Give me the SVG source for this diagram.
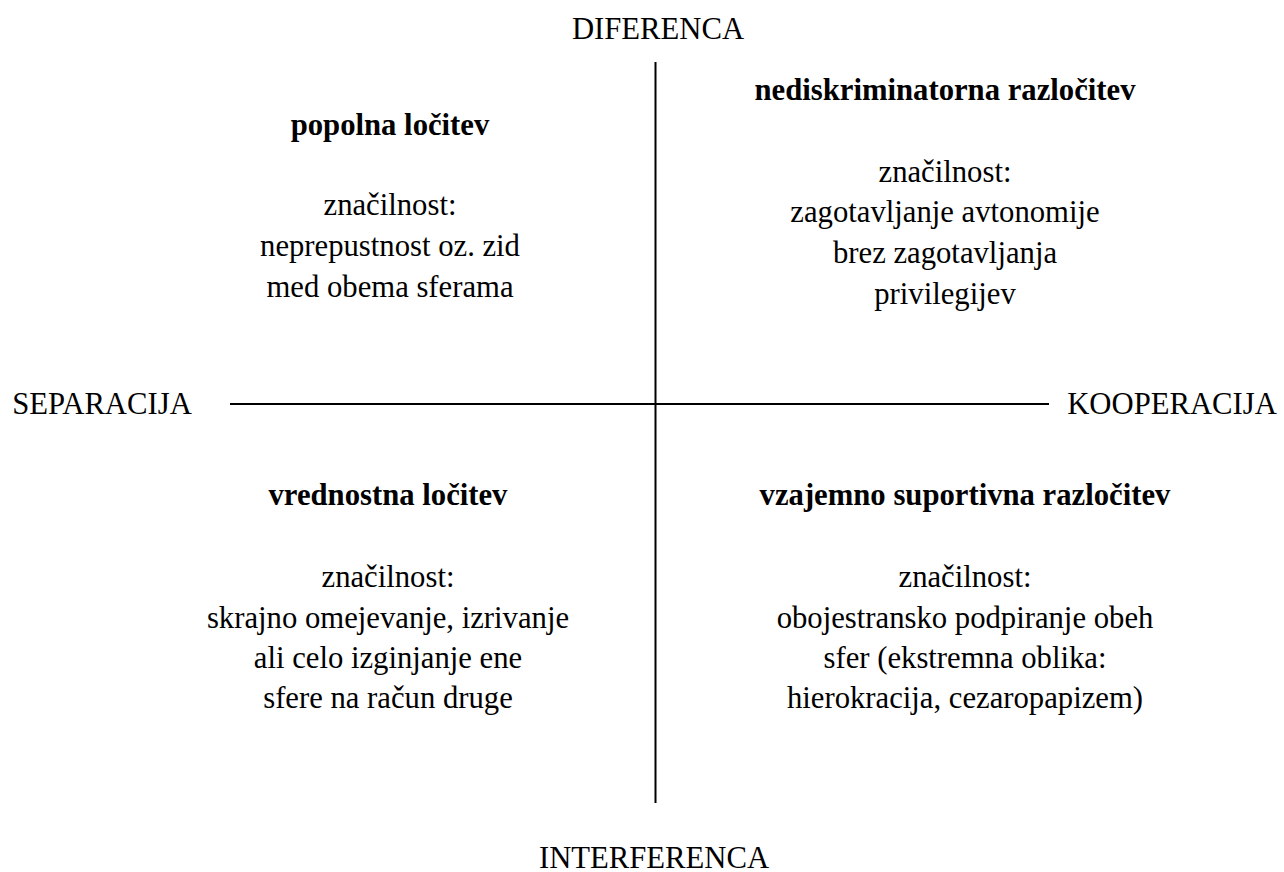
<svg xmlns="http://www.w3.org/2000/svg" width="1284" height="872" viewBox="0 0 1284 872" font-family="'Liberation Serif','Times New Roman',serif">
<style>
text{font-family:"Liberation Serif","Times New Roman",serif;font-size:30.7px;fill:#000;text-anchor:middle}
.b{font-weight:bold}
.ax{stroke:#000;stroke-width:2;fill:none}
</style>
<rect width="1284" height="872" fill="#fff"/>
<g id="connectors">
<line class="ax" x1="655.5" y1="62" x2="655.5" y2="803"/>
<line class="ax" x1="230" y1="404" x2="1049" y2="404"/>
</g>
<g id="axis-top"><text x="658" y="39">DIFERENCA</text></g>
<g id="axis-bottom"><text x="654" y="868">INTERFERENCA</text></g>
<g id="axis-left"><text x="102" y="414">SEPARACIJA</text></g>
<g id="axis-right"><text x="1172" y="414">KOOPERACIJA</text></g>
<g id="q-top-left">
<text class="b" x="390" y="135">popolna ločitev</text>
<text x="390" y="215">značilnost:</text>
<text x="390" y="256">neprepustnost oz. zid</text>
<text x="390" y="297">med obema sferama</text>
</g>
<g id="q-top-right">
<text class="b" x="945" y="100">nediskriminatorna razločitev</text>
<text x="945" y="182">značilnost:</text>
<text x="945" y="222">zagotavljanje avtonomije</text>
<text x="945" y="263">brez zagotavljanja</text>
<text x="945" y="304">privilegijev</text>
</g>
<g id="q-bottom-left">
<text class="b" x="388" y="505">vrednostna ločitev</text>
<text x="388" y="587">značilnost:</text>
<text x="388" y="628">skrajno omejevanje, izrivanje</text>
<text x="388" y="668">ali celo izginjanje ene</text>
<text x="388" y="708">sfere na račun druge</text>
</g>
<g id="q-bottom-right">
<text class="b" x="965" y="505">vzajemno suportivna razločitev</text>
<text x="965" y="587">značilnost:</text>
<text x="965" y="628">obojestransko podpiranje obeh</text>
<text x="965" y="668">sfer (ekstremna oblika:</text>
<text x="965" y="708">hierokracija, cezaropapizem)</text>
</g>
</svg>
